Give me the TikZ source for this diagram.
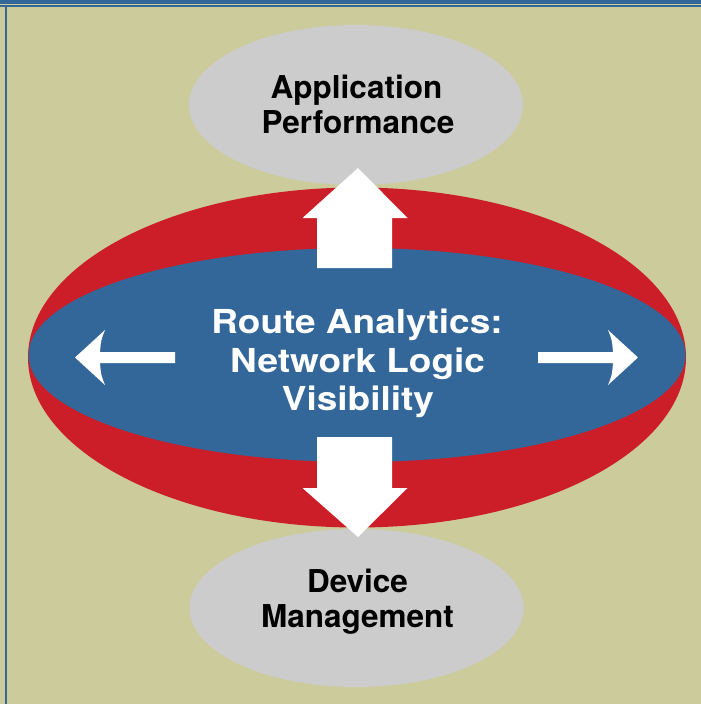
\documentclass[tikz,border=0pt]{standalone}
\usepackage{fontspec}
\usetikzlibrary{shapes.geometric}
\newfontfamily\helv{TeX Gyre Heros}
\newfontfamily\helvwide[FakeStretch=1.12]{TeX Gyre Heros}
\definecolor{khaki}{RGB}{204,203,155}
\definecolor{frameblue}{RGB}{51,102,153}
\definecolor{ringred}{RGB}{204,30,40}
\definecolor{coreblue}{RGB}{51,102,153}
\definecolor{bubble}{RGB}{204,204,204}
\tikzset{
  bubblestyle/.style={ellipse, fill=bubble, draw=none, inner sep=0pt},
  darklabel/.style={anchor=base, inner sep=0pt, font=\helv\bfseries\fontsize{31.5}{35}\selectfont, text=black},
  lightlabel/.style={anchor=base, inner sep=0pt, font=\helvwide\bfseries\fontsize{33}{38}\selectfont, text=white},
  blockarrow/.style={fill=white, draw=none}
}
\begin{document}
\begin{tikzpicture}[x=1pt,y=-1pt]
\useasboundingbox (0,0) rectangle (701,704);
\fill[khaki] (0,0) rectangle (701,704);
% frame lines
\fill[frameblue] (0,0) rectangle (701,4.2);
\fill[frameblue] (0,4.8) rectangle (701,7.2);
\fill[frameblue] (5,4.8) rectangle (7.4,704);

% bubbles
\node[bubblestyle, minimum width=334pt, minimum height=160pt] (app) at (356,105) {};
\node[bubblestyle, minimum width=334pt, minimum height=158pt] (dev) at (356.5,608) {};

% ellipses
\node[ellipse, fill=ringred, inner sep=0pt, minimum width=658pt, minimum height=340pt] (ring) at (357,357.5) {};
\node[ellipse, fill=coreblue, inner sep=0pt, minimum width=657pt, minimum height=214pt] (core) at (357,355) {};

% block arrows
\coordinate (upTip) at (358,168);
\coordinate (downTip) at (358,537);
\fill[blockarrow] (upTip) -- (407.5,218) -- (392,218) -- (392,268) -- (317,268) -- (317,218) -- (302.5,218) -- cycle;
\fill[blockarrow] (downTip) -- (407.5,488) -- (392,488) -- (392,437) -- (317,437) -- (317,488) -- (302.5,488) -- cycle;

% side arrows
\coordinate (leftTip) at (75,357.5);
\coordinate (rightTip) at (638,357.5);
\fill[blockarrow] (leftTip) -- (105,330) .. controls (101,340) .. (100,352) -- (175,352) -- (175,363) -- (100,363) .. controls (101,375) .. (105,385) -- cycle;
\fill[blockarrow] (rightTip) -- (608,330) .. controls (612,340) .. (613,352) -- (538,352) -- (538,363) -- (613,363) .. controls (612,375) .. (608,385) -- cycle;

% texts
\node[darklabel] (t1) at (356.5,98) {Application};
\node[darklabel] (t2) at (358,133) {Performance};
\node[darklabel] (t3) at (357.5,592) {Device};
\node[darklabel] (t4) at (357.5,627) {Management};
\node[lightlabel] (c1) at (357,333) {Route Analytics:};
\node[lightlabel] (c2) at (357.5,372) {Network Logic};
\node[lightlabel] (c3) at (358,410) {Visibility};
\end{tikzpicture}
\end{document}
